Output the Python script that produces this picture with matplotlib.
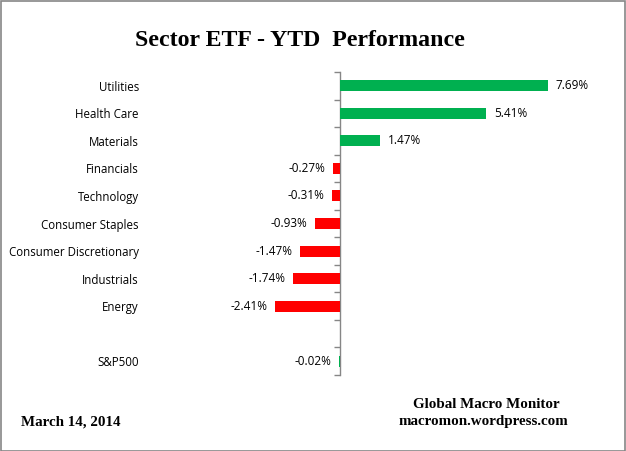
import matplotlib
matplotlib.use("Agg")
import matplotlib.pyplot as plt
from matplotlib.patches import Rectangle

categories = ["Utilities", "Health Care", "Materials", "Financials", "Technology",
              "Consumer Staples", "Consumer Discretionary", "Industrials", "Energy",
              "", "S&P500"]
values = [7.69, 5.41, 1.47, -0.27, -0.31, -0.93, -1.47, -1.74, -2.41, None, -0.02]
value_labels = ["7.69%", "5.41%", "1.47%", "-0.27%", "-0.31%", "-0.93%", "-1.47%",
                "-1.74%", "-2.41%", "", "-0.02%"]

title = "Sector ETF - YTD  Performance"
date_text = "March 14, 2014"
source_lines = ["Global Macro Monitor", "macromon.wordpress.com"]

GREEN = "#00B050"
RED = "#FF0000"
GREY = "#868686"

W, H = 626, 451
fig = plt.figure(figsize=(W / 100, H / 100), dpi=100)
fig.patch.set_facecolor("white")

# axes placement (pixels)
ax_left, ax_right, ax_top, ax_bottom = 150, 601, 72, 375
ax = fig.add_axes([ax_left / W, 1 - ax_bottom / H, (ax_right - ax_left) / W, (ax_bottom - ax_top) / H])
zero_px = 340
px_per_unit = (548 - 340) / 7.69
ax.set_xlim(-(zero_px - ax_left) / px_per_unit, (ax_right - zero_px) / px_per_unit)
n = len(categories)
ax.set_ylim(n - 0.5, -0.5)

LAB_FS = 8.5
for i, v in enumerate(values):
    if v is None:
        continue
    color = GREEN if (v > 0 or categories[i] == "S&P500") else RED
    ax.barh(i, v, height=0.4, color=color, edgecolor="none")
    lab = value_labels[i]
    if v >= 0:
        ax.annotate(lab, (v, i), xytext=(5.5, 0), textcoords="offset points",
                    ha="left", va="center", fontsize=LAB_FS, family="Open Sans", color="black")
    else:
        ax.annotate(lab, (v, i), xytext=(-5.5, 0), textcoords="offset points",
                    ha="right", va="center", fontsize=LAB_FS, family="Open Sans", color="black")

ax.set_yticks(range(n))
ax.set_yticklabels(categories, fontsize=8.3, family="Open Sans")
ax.tick_params(axis="y", length=0, pad=8)
ax.set_xticks([])
for s in ax.spines.values():
    s.set_visible(False)

xmin, xmax = ax.get_xlim()
loc = (0 - xmin) / (xmax - xmin)
sec = ax.secondary_yaxis(loc)
sec.set_yticks([i - 0.5 for i in range(n + 1)])
sec.set_yticklabels([])
sec.tick_params(axis="y", length=4, width=1, color=GREY, direction="out")
sec.spines["left"].set_color(GREY)
sec.spines["left"].set_linewidth(1)

fig.text(300 / W, 1 - 41 / H, title, ha="center", va="center", fontsize=17.2,
         fontweight="bold", family="Liberation Serif")
fig.text(21 / W, 1 - 422 / H, date_text, ha="left", va="center", fontsize=10.8,
         fontweight="bold", family="Liberation Serif")
fig.text(486 / W, 1 - 405 / H, source_lines[0], ha="center", va="center", fontsize=10.8,
         fontweight="bold", family="Liberation Serif")
fig.text(483 / W, 1 - 422 / H, source_lines[1], ha="center", va="center", fontsize=10.8,
         fontweight="bold", family="Liberation Serif")

fig.add_artist(Rectangle((0.5 / W, 0.5 / H), 1 - 1.5 / W, 1 - 1.5 / H, transform=fig.transFigure,
                         fill=False, edgecolor=GREY, linewidth=1.2))

fig.savefig("out.png", dpi=100)
